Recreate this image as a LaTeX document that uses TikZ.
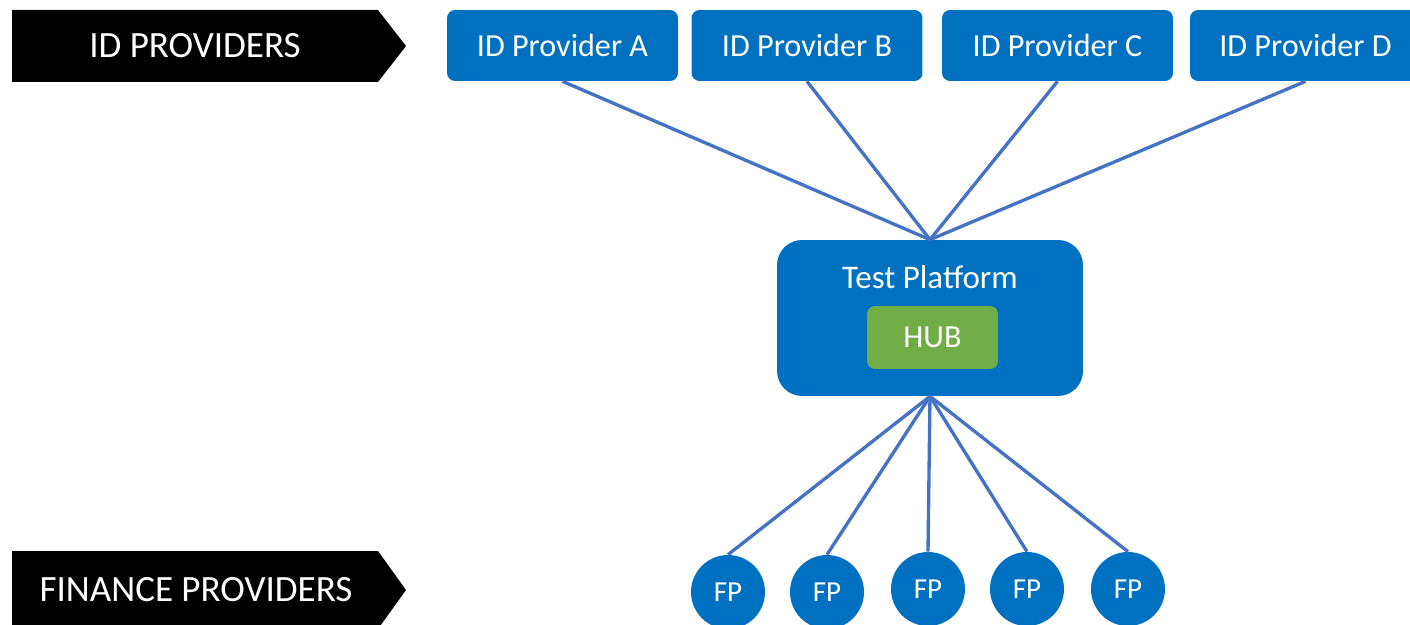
\documentclass[tikz,border=0pt]{standalone}
\usepackage{fontspec}
\setmainfont{Carlito}
\definecolor{boxblue}{HTML}{0070C0}
\definecolor{hubgreen}{HTML}{70AD47}
\definecolor{linkblue}{HTML}{4472C4}
\begin{document}
\begin{tikzpicture}[x=0.02cm,y=-0.02cm,
  every node/.style={text=white,font=\fontsize{18.3}{21}\selectfont},
  idbox/.style={fill=boxblue,rounded corners=0.16cm,minimum width=4.62cm,minimum height=1.42cm,inner sep=0pt},
  fpdot/.style={circle,fill=boxblue,minimum size=1.48cm,inner sep=0pt,font=\fontsize{16.5}{18}\selectfont},
  banner/.style={font=\fontsize{21.1}{24}\selectfont},
  link/.style={draw=linkblue,line width=1.9pt}]
  \useasboundingbox (0,0) rectangle (1410,625);
  % black banners on the left
  \fill[black] (12,10) -- (378,10) -- (406,46) -- (378,82) -- (12,82) -- cycle;
  \node[banner] (idlab) at (195,46) {ID PROVIDERS};
  \fill[black] (12,551) -- (378,551) -- (406,590) -- (378,629) -- (12,629) -- cycle;
  \node[banner] (fplab) at (196,590) {FINANCE PROVIDERS};
  % identity providers
  \node[idbox] (idA) at (562.5,45.5) {ID Provider A};
  \node[idbox] (idB) at (807,45.5) {ID Provider B};
  \node[idbox] (idC) at (1057.5,45.5) {ID Provider C};
  \node[idbox] (idD) at (1305.5,45.5) {ID Provider D};
  % platform with the hub inside
  \node[fill=boxblue,rounded corners=0.5cm,minimum width=6.12cm,minimum height=3.12cm] (tp) at (930,318) {};
  \node[font=\fontsize{18.8}{21}\selectfont] (tptext) at (930,277) {Test Platform};
  \node[fill=hubgreen,rounded corners=0.16cm,minimum width=2.62cm,minimum height=1.26cm,inner sep=0pt] (hub) at (932.5,337.5) {HUB};
  % finance providers
  \foreach \i/\x/\y in {1/728/592,2/827/592,3/928/589,4/1027/589,5/1128/589}
    \node[fpdot] (fp\i) at (\x,\y) {FP};
  % links
  \foreach \p in {idA,idB,idC,idD}
    \draw[link] (\p.south) -- (tp.north);
  \foreach \i in {1,...,5}
    \draw[link] (tp.south) -- (fp\i.north);
\end{tikzpicture}
\end{document}
